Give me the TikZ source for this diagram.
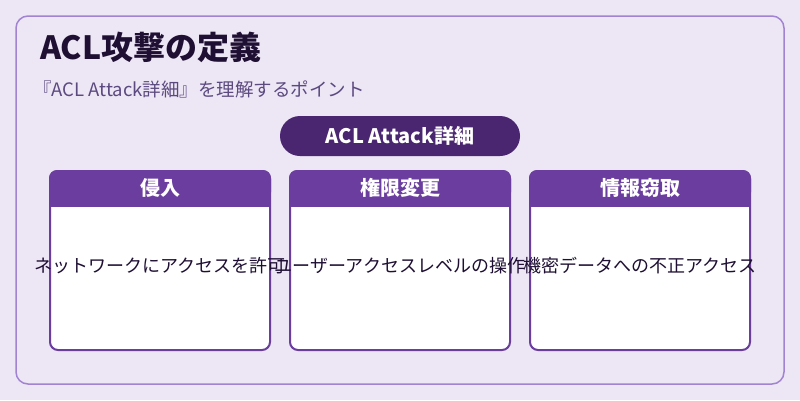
\documentclass[tikz,border=0pt]{standalone}
\usepackage{fontspec}
\setmainfont{Noto Sans CJK JP}
\begin{document}
\begin{tikzpicture}[x=1pt,y=-1pt,
  card/.style={draw=hd,line width=2pt,fill=white,rounded corners=8pt},
  body/.style={font=\fontsize{18}{21}\selectfont,text=tx,anchor=center},
  head/.style={font=\fontsize{20}{24}\selectfont\bfseries,text=white,anchor=center}]
\definecolor{bg}{HTML}{EDE6F5}
\definecolor{fr}{HTML}{A283D2}
\definecolor{hd}{HTML}{6A3D9E}
\definecolor{pl}{HTML}{4A2570}
\definecolor{tx}{HTML}{1E0F33}
\definecolor{st}{HTML}{5B4A80}
\fill[bg] (0,0) rectangle (800,400);
\useasboundingbox (0,0) rectangle (800,400);
\draw[fr,line width=1.5pt,rounded corners=12pt] (16,16) rectangle (784,384);
\node[anchor=base west,font=\fontsize{32}{36}\selectfont\bfseries,text=tx,inner sep=0pt] (title) at (40,59) {ACL攻撃の定義};
\node[anchor=base west,font=\fontsize{18.5}{22}\selectfont,text=st,inner sep=0pt] (sub) at (33,96) {『ACL Attack詳細』を理解するポイント};
\fill[pl,rounded corners=20pt] (280,116) rectangle (520,156);
\node[font=\fontsize{20}{24}\selectfont\bfseries,text=white] (pill) at (400,136) {ACL Attack詳細};
\foreach \x/\h/\b [count=\i] in {50/侵入/ネットワークにアクセスを許可,290/権限変更/ユーザーアクセスレベルの操作,530/情報窃取/機密データへの不正アクセス}{
  \draw[card] (\x,171) rectangle (\x+220,350);
  \fill[hd,rounded corners=8pt] (\x-1,170) rectangle (\x+221,200);
  \fill[hd] (\x-1,190) rectangle (\x+221,207);
  \node[head] (h\i) at (\x+110,188) {\h};
  \node[body] (b\i) at (\x+110,266) {\b};
}
\end{tikzpicture}
\end{document}
